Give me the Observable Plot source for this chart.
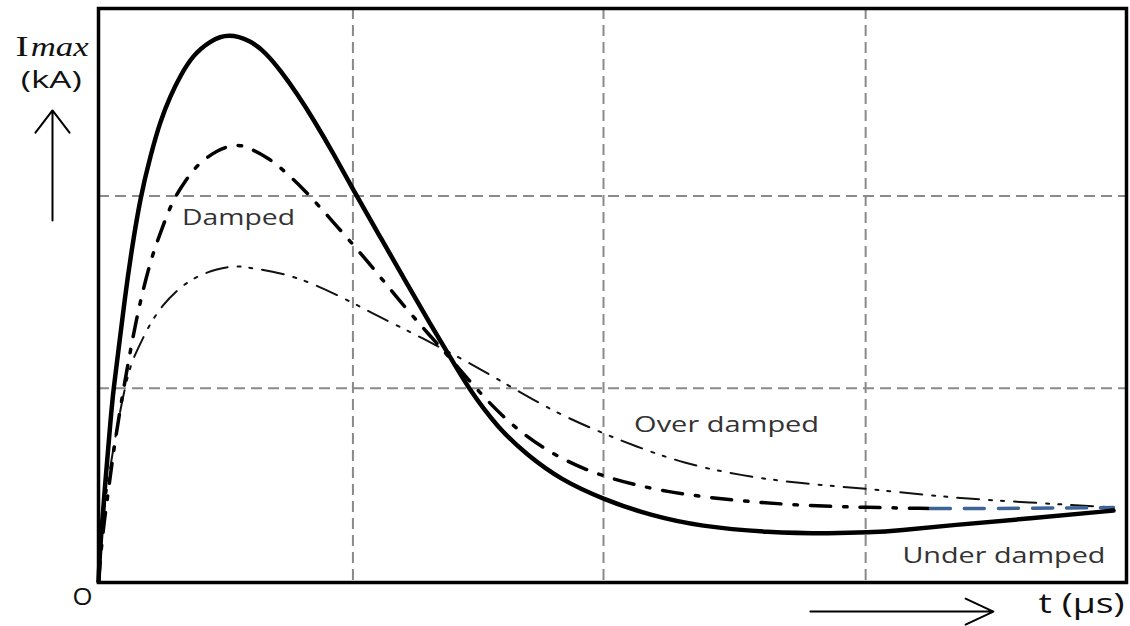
<!DOCTYPE html>
<html>
<head>
<meta charset="utf-8">
<script src="https://cdn.jsdelivr.net/npm/d3@7"></script>
<script src="https://cdn.jsdelivr.net/npm/@observablehq/plot@0.6"></script>
<style>
  html, body { margin: 0; padding: 0; background: #fff; }
  #chart svg { display: block; }
</style>
</head>
<body>
<div id="chart"></div>
<script>
// ---- Data (t in µs-like units 0..40, current in kA-like units 0..30) ----
const underT = [0, 0.078, 0.272, 0.467, 0.584, 0.778, 1.012, 1.284, 1.634, 2.023, 2.412, 2.802, 3.191, 3.658, 4.358, 5.058, 5.914, 6.498, 7.082, 7.743, 8.366, 9.144, 9.922, 10.973, 12.023, 12.918, 13.696, 14.397, 15.525, 16.693, 17.977, 19.650, 21.479, 23.424, 26.031, 28.599, 29.922, 31.206, 33.035, 36.265, 39.494];
const underI = [0.05, 2.20, 5.33, 8.47, 10.14, 12.13, 14.74, 17.35, 20.17, 22.32, 24.15, 25.45, 26.50, 27.54, 28.33, 28.69, 28.33, 27.70, 26.76, 25.51, 24.20, 22.42, 20.49, 18.03, 15.58, 13.48, 11.76, 10.14, 8.10, 6.64, 5.38, 4.34, 3.50, 2.93, 2.61, 2.56, 2.61, 2.72, 2.98, 3.35, 3.76];

const dampedT = [0, 0.156, 0.389, 0.584, 0.973, 1.362, 1.634, 2.023, 2.412, 2.879, 3.385, 3.852, 4.630, 5.409, 5.914, 6.576, 7.082, 7.977, 9.144, 10.389, 11.479, 12.607, 13.424, 14.981, 16.304, 17.860, 19.650, 22.140, 24.708, 27.315, 29.922, 32.374];
const dampedI = [0.05, 2.56, 4.81, 6.90, 10.14, 13.01, 14.74, 16.83, 18.29, 19.97, 21.01, 21.85, 22.63, 22.94, 22.68, 22.21, 21.69, 20.59, 18.82, 16.93, 15.10, 13.33, 12.13, 9.67, 7.94, 6.53, 5.49, 4.70, 4.29, 4.02, 3.92, 3.87];

const dampedTailT = [32.374, 35.875, 39.494];
const dampedTailI = [3.87, 3.87, 3.92];

const overT = [0, 0.078, 0.311, 0.623, 1.012, 1.284, 1.518, 2.023, 2.490, 2.996, 3.696, 4.630, 5.409, 6.031, 7.082, 8.366, 9.883, 10.973, 12.257, 13.307, 14.747, 16.148, 17.860, 19.650, 20.817, 22.763, 24.981, 27.315, 29.922, 33.035, 36.265, 39.494];
const overI = [0.05, 2.20, 4.81, 7.42, 10.14, 11.50, 12.18, 13.59, 14.48, 15.21, 15.94, 16.41, 16.57, 16.41, 16.20, 15.63, 14.63, 13.85, 13.01, 12.28, 11.24, 10.14, 8.83, 7.79, 7.16, 6.22, 5.59, 5.17, 4.91, 4.44, 4.18, 3.92];

const gridT = [9.9, 19.65, 29.85];
const gridI = [10.15, 20.2];

const curveLabels = ["Damped", "Over damped", "Under damped"];
const curveLabelT = [5.45, 24.44, 35.23];
const curveLabelI = [18.66, 7.84, 1.045];

const yTitleMain = "I";
const yTitleSub = "max";
const yTitleUnit = "(kA)";
const xTitle = "t (\u00b5s)";
const originLabel = "O";

// ---- helpers ----
const rows = (T, I) => T.map((t, i) => ({t, I: I[i]}));

const W = 1130, H = 626;
const svg = Plot.plot({
  width: W,
  height: H,
  marginLeft: 98,
  marginRight: 4,
  marginTop: 8,
  marginBottom: 44,
  x: {domain: [0, 40], axis: null},
  y: {domain: [0, 30], axis: null},
  style: {background: "#fff", overflow: "visible"},
  marks: [
    Plot.ruleX(gridT, {x: d => d, stroke: "#8a8a8a", strokeWidth: 2, strokeDasharray: "11,6"}),
    Plot.ruleY(gridI, {y: d => d, stroke: "#8a8a8a", strokeWidth: 2, strokeDasharray: "11,6"}),
    Plot.line(rows(overT, overI), {x: "t", y: "I", curve: "basis", stroke: "#111", strokeWidth: 2, strokeDasharray: "22,10,3,9,3,10"}),
    Plot.line(rows(dampedT, dampedI), {x: "t", y: "I", curve: "basis", stroke: "#000", strokeWidth: 3.5, strokeDasharray: "20,13,3.5,13"}),
    Plot.line(rows(dampedTailT, dampedTailI), {x: "t", y: "I", curve: "basis", stroke: "#3d6397", strokeWidth: 3.5, strokeDasharray: "20,14"}),
    Plot.line(rows(underT, underI), {x: "t", y: "I", curve: "basis", stroke: "#000", strokeWidth: 4.5}),
    Plot.frame({stroke: "#000", strokeWidth: 3.5}),
    Plot.text(curveLabels, {x: (d, i) => curveLabelT[i], y: (d, i) => curveLabelI[i], text: d => d, textAnchor: "middle", lineAnchor: "bottom", fontSize: 22, fill: "#333", fontFamily: "Open Sans"}),
    // Axis title arrows
    Plot.arrow([0], {x1: -1.79, x2: -1.79, y1: 18.92, y2: 24.67, stroke: "#000", strokeWidth: 2, headAngle: 75, headLength: 21}),
    Plot.arrow([0], {x1: 27.7, x2: 34.82, y1: -1.52, y2: -1.52, stroke: "#000", strokeWidth: 2, headAngle: 50, headLength: 23}),
    Plot.text([yTitleMain], {x: -3.23, y: 27.54, text: d => d, textAnchor: "start", lineAnchor: "bottom", fontSize: 30, fontFamily: "Liberation Serif", fill: "#111"}),
    Plot.text([yTitleSub], {x: -2.64, y: 27.54, text: d => d, textAnchor: "start", lineAnchor: "bottom", fontSize: 27, fontFamily: "Liberation Serif", fontStyle: "italic", fill: "#111"}),
    Plot.text([yTitleUnit], {x: -1.84, y: 25.87, text: d => d, textAnchor: "middle", lineAnchor: "bottom", fontSize: 24, fontFamily: "Open Sans", fill: "#111"}),
    Plot.text([originLabel], {x: -0.62, y: -1.20, text: d => d, textAnchor: "middle", lineAnchor: "bottom", fontSize: 24, fontFamily: "Open Sans", fill: "#111"}),
    Plot.text([xTitle], {x: 36.58, y: -1.62, text: d => d, textAnchor: "start", lineAnchor: "bottom", fontSize: 27, fontFamily: "Open Sans", fill: "#111"})
  ]
});

// Horizontal stretch of text to match the reference's wide lettering
const stretch = new Map([
  ["Damped", 113], ["Over damped", 185], ["Under damped", 203],
  ["I", 13], ["max", 58], ["(kA)", 61], ["O", 20], [xTitle, 86]
]);
d3.select(svg).selectAll("text").each(function () {
  const w = stretch.get(this.textContent);
  if (w != null) {
    this.setAttribute("textLength", w);
    this.setAttribute("lengthAdjust", "spacingAndGlyphs");
  }
});

document.getElementById("chart").appendChild(svg);
</script>
</body>
</html>
